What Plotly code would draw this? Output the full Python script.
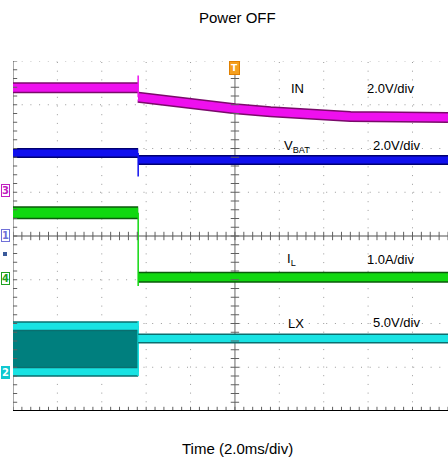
import numpy as np
import plotly.graph_objects as go

# Time axis in ms (2.0 ms/div, 0 = trigger at screen centre); vertical in divisions
t_off = -4.36  # power-off edge

# IN channel (magenta)
in_t_before = [-10.0, t_off]
in_v_before = [3.39, 3.39]
in_t_after = [t_off, -1.6, 0.0, 1.6, 3.0, 5.2, 9.6]
in_v_after = [3.17, 2.98, 2.91, 2.84, 2.78, 2.73, 2.71]

# VBAT channel (blue)
vbat_t_before = [-10.0, t_off]
vbat_v_before = [1.90, 1.90]
vbat_t_after = [t_off, 9.6]
vbat_v_after = [1.74, 1.74]

# IL channel (green)
il_t_before = [-10.0, t_off]
il_v_before = [0.53, 0.53]
il_t_after = [t_off, 9.6]
il_v_after = [-0.94, -0.94]

# LX channel (cyan): switching envelope before, flat after
lx_t_before = [-10.0, t_off]
lx_hi_before = [-2.06, -2.06]
lx_lo_before = [-3.10, -3.10]
lx_t_after = [t_off, 9.6]
lx_v_after = [-2.34, -2.34]

labels = [
    ("IN", 2.84, 3.37), ("2.0V/div", 7.03, 3.37),
    ("V<sub>BAT</sub>", 2.80, 2.05), ("2.0V/div", 7.30, 2.07),
    ("I<sub>L</sub>", 2.57, -0.53), ("1.0A/div", 7.03, -0.53),
    ("LX", 2.75, -2.00), ("5.0V/div", 7.30, -1.97),
]

W, H = 448, 465
L, R, T, B = 13, 0, 61, 54
PW, PH = W - L - R, H - T - B


def px(x):
    return (x - L) / PW


def py(y):
    return (H - B - y) / PH


fig = go.Figure()


def band(x, y, col, dark, w):
    fig.add_trace(go.Scatter(x=x, y=y, mode="lines", line=dict(color=dark, width=w + 3),
                             hoverinfo="skip", showlegend=False))
    fig.add_trace(go.Scatter(x=x, y=y, mode="lines", line=dict(color=col, width=w),
                             hoverinfo="skip", showlegend=False))


def edge(x, y, col):
    fig.add_trace(go.Scatter(x=x, y=y, mode="lines", line=dict(color=col, width=1.5),
                             hoverinfo="skip", showlegend=False))


# LX switching fill
fig.add_trace(go.Scatter(x=lx_t_before + lx_t_before[::-1], y=lx_hi_before + lx_lo_before[::-1],
                         fill="toself", fillcolor="#007f7e", mode="lines",
                         line=dict(color="#006a6a", width=1), hoverinfo="skip", showlegend=False))
band(lx_t_before, lx_hi_before, "#19e3e3", "#0a6f6f", 7)
band(lx_t_before, lx_lo_before, "#19e3e3", "#0a6f6f", 7)
edge([t_off, t_off], [lx_hi_before[-1] + 0.12, lx_lo_before[-1] - 0.1], "#19e3e3")
band(lx_t_after, lx_v_after, "#19e3e3", "#0a6f6f", 7)

# IN
band(in_t_before, in_v_before, "#ee10ee", "#7a0a6a", 8)
band(in_t_after, in_v_after, "#ee10ee", "#7a0a6a", 8)
edge([t_off, t_off], [in_v_before[0] + 0.28, in_v_after[0]], "#ee10ee")

# VBAT
band(vbat_t_before, vbat_v_before, "#1010ee", "#000070", 7)
band(vbat_t_after, vbat_v_after, "#1010ee", "#000070", 7)
edge([t_off, t_off], [vbat_v_before[0], vbat_v_after[0] - 0.38], "#1010ee")

# IL
band(il_t_before, il_v_before, "#10d810", "#0a5a0a", 10)
band(il_t_after, il_v_after, "#10d810", "#0a5a0a", 8)
edge([t_off, t_off], [il_v_before[0], il_v_after[0] - 0.2], "#10d810")

# Grid (dotted) and centre cross
shapes = []
dot = dict(color="#9a9a9a", width=1, dash="1px,7.7px")
for k in range(-4, 5):
    if k != 0:
        shapes.append(dict(type="line", x0=2 * k, x1=2 * k, y0=-4, y1=4, xref="x", yref="y",
                           line=dot, layer="below"))
for k in range(-3, 5):
    if k != 0:
        shapes.append(dict(type="line", x0=-10, x1=9.6, y0=k, y1=k, xref="x", yref="y",
                           line=dot, layer="below"))
shapes.append(dict(type="line", x0=0, x1=0, y0=-4, y1=4, xref="x", yref="y",
                   line=dict(color="#808080", width=1.2), layer="below"))
shapes.append(dict(type="line", x0=-10, x1=9.6, y0=0, y1=0, xref="x", yref="y",
                   line=dict(color="#505050", width=1.2), layer="below"))
shapes.append(dict(type="line", x0=-10, x1=-10, y0=-4, y1=4, xref="x", yref="y",
                   line=dict(color="#707070", width=1.2), layer="below"))
shapes.append(dict(type="line", x0=-10, x1=9.6, y0=-4, y1=-4, xref="x", yref="y",
                   line=dict(color="#000000", width=2)))

# minor ticks on centre cross and frame edges
tx = np.arange(-10, 9.61, 0.4)
ty = np.arange(-4, 4.01, 0.2)
tick_line = dict(color="#606060", width=1)
fig.add_trace(go.Scatter(x=tx, y=np.zeros_like(tx), mode="markers",
                         marker=dict(symbol="line-ns", size=6, line=tick_line),
                         hoverinfo="skip", showlegend=False))
fig.add_trace(go.Scatter(x=tx, y=np.full_like(tx, -4.0), mode="markers",
                         marker=dict(symbol="line-ns", size=6, line=tick_line),
                         hoverinfo="skip", showlegend=False))
fig.add_trace(go.Scatter(x=np.zeros_like(ty), y=ty, mode="markers",
                         marker=dict(symbol="line-ew", size=6, line=tick_line),
                         hoverinfo="skip", showlegend=False))
fig.add_trace(go.Scatter(x=np.full_like(ty, -10.0), y=ty, mode="markers",
                         marker=dict(symbol="line-ew", size=6, line=tick_line),
                         hoverinfo="skip", showlegend=False))

annotations = []
for txt, x, y in labels:
    annotations.append(dict(text=txt, x=x, y=y, xref="x", yref="y", showarrow=False,
                            font=dict(family="Liberation Sans, Arial", size=13, color="#000000")))

# channel markers at left
markers = [("3", 1.03, "#c020c0"), ("1", 0.02, "#7070d8"), ("4", -0.96, "#20a020"), ("2", -3.13, "#10c8d0")]
for txt, y, col in markers:
    annotations.append(dict(text="<b>" + txt + "</b>", x=px(1), y=y, xref="paper", yref="y",
                            xanchor="left", showarrow=False,
                            font=dict(family="DejaVu Sans", size=10, color=col if txt != "2" else "white"),
                            bgcolor="white" if txt != "2" else col, bordercolor=col, borderwidth=1, borderpad=0))
shapes.append(dict(type="rect", x0=px(3), x1=px(7), y0=py(256), y1=py(252), xref="paper", yref="paper",
                   fillcolor="#3a5a9a", line=dict(width=0)))

# trigger marker
annotations.append(dict(text="<b>T</b>", x=0, y=4, xref="x", yref="y", yanchor="top", showarrow=False,
                        font=dict(family="DejaVu Sans", size=9, color="white"),
                        bgcolor="#f5a020", bordercolor="#e08000", borderwidth=1, borderpad=1))

annotations.append(dict(text="Power OFF", x=px(237), y=py(17), xref="paper", yref="paper",
                        xanchor="center", yanchor="middle", showarrow=False,
                        font=dict(family="Liberation Sans, Arial", size=15, color="#000")))
annotations.append(dict(text="Time (2.0ms/div)", x=px(237), y=py(448), xref="paper", yref="paper",
                        xanchor="center", yanchor="middle", showarrow=False,
                        font=dict(family="Liberation Sans, Arial", size=15, color="#000")))

fig.update_layout(
    width=W, height=H,
    margin=dict(l=L, r=R, t=T, b=B, autoexpand=False),
    paper_bgcolor="white", plot_bgcolor="white",
    xaxis=dict(range=[-10, 9.6], showgrid=False, zeroline=False, showticklabels=False, ticks="",
               fixedrange=True),
    yaxis=dict(range=[-4, 4], showgrid=False, zeroline=False, showticklabels=False, ticks="",
               fixedrange=True),
    shapes=shapes, annotations=annotations, showlegend=False,
)
fig.write_html("out.html", config=dict(displayModeBar=False),
               post_script="document.body.style.margin='0';document.body.style.overflow='hidden';")
